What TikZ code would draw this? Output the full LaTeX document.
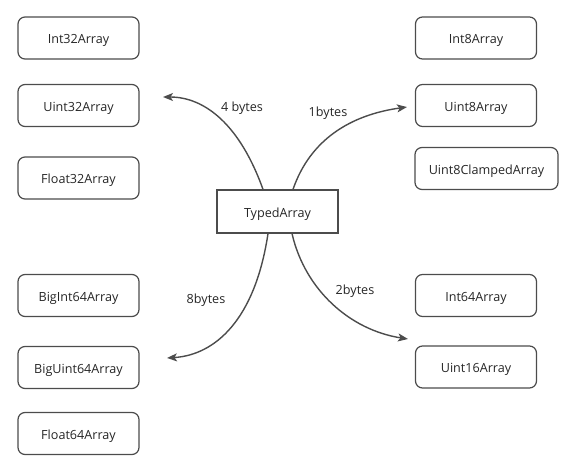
\documentclass[tikz,border=0pt]{standalone}
\usepackage{fontspec}
\setmainfont{Open Sans}
\usetikzlibrary{arrows.meta}
\begin{document}
\begin{tikzpicture}[x=1pt,y=-1pt,
  box/.style={draw=black!70,line width=1.2pt,rounded corners=7pt,minimum width=121pt,minimum height=42pt,inner sep=0pt,text height=11.5pt,text depth=0pt,font=\fontsize{12.6}{14}\selectfont,text=black!85},
  root/.style={draw=black!70,line width=1.2pt,minimum width=121pt,minimum height=43pt,inner sep=0pt,text height=11.5pt,text depth=0pt,font=\fontsize{12.6}{14}\selectfont,text=black!85},
  conn/.style={draw=black!70,line width=1.4pt,-{Stealth[length=10pt,width=8pt,inset=2.5pt]}},
  lbl/.style={font=\fontsize{12.6}{14}\selectfont,text=black!85,text height=11.5pt,text depth=0pt,inner sep=0pt}]
\useasboundingbox (0,0) rectangle (574,463);
\node[box] (i32) at (78.5,38) {Int32Array};
\node[box] (u32) at (78.5,105.5) {Uint32Array};
\node[box] (f32) at (78.5,178) {Float32Array};
\node[box] (bi64) at (78.5,295.5) {BigInt64Array};
\node[box] (bu64) at (78.5,367.5) {BigUint64Array};
\node[box] (f64) at (78.5,433.5) {Float64Array};
\node[box] (i8) at (476,38) {Int8Array};
\node[box] (u8) at (476,105.5) {Uint8Array};
\node[box,minimum width=143pt] (u8c) at (486.5,168.5) {Uint8ClampedArray};
\node[box] (i64) at (476,295.5) {Int64Array};
\node[box] (u16) at (476,367) {Uint16Array};
\node[root] (ta) at (277.5,211.5) {TypedArray};
\coordinate (e4) at (163,97);
\coordinate (e1) at (407,107);
\coordinate (e8) at (167,358);
\coordinate (e2) at (408,339);
\draw[conn] ([xshift=-14.5pt]ta.north) .. controls (240,125) and (205,97) .. (e4);
\draw[conn] ([xshift=15.5pt]ta.north) .. controls (310,140) and (350,115) .. (e1);
\draw[conn] ([xshift=-9.5pt]ta.south) .. controls (255,320) and (215,355) .. (e8);
\draw[conn] ([xshift=14.5pt]ta.south) .. controls (305,290) and (350,330) .. (e2);
\node[lbl] (l4) at (242,106) {4 bytes};
\node[lbl] (l1) at (328,111) {1bytes};
\node[lbl] (l8) at (206,298) {8bytes};
\node[lbl] (l2) at (355,289) {2bytes};
\end{tikzpicture}
\end{document}
